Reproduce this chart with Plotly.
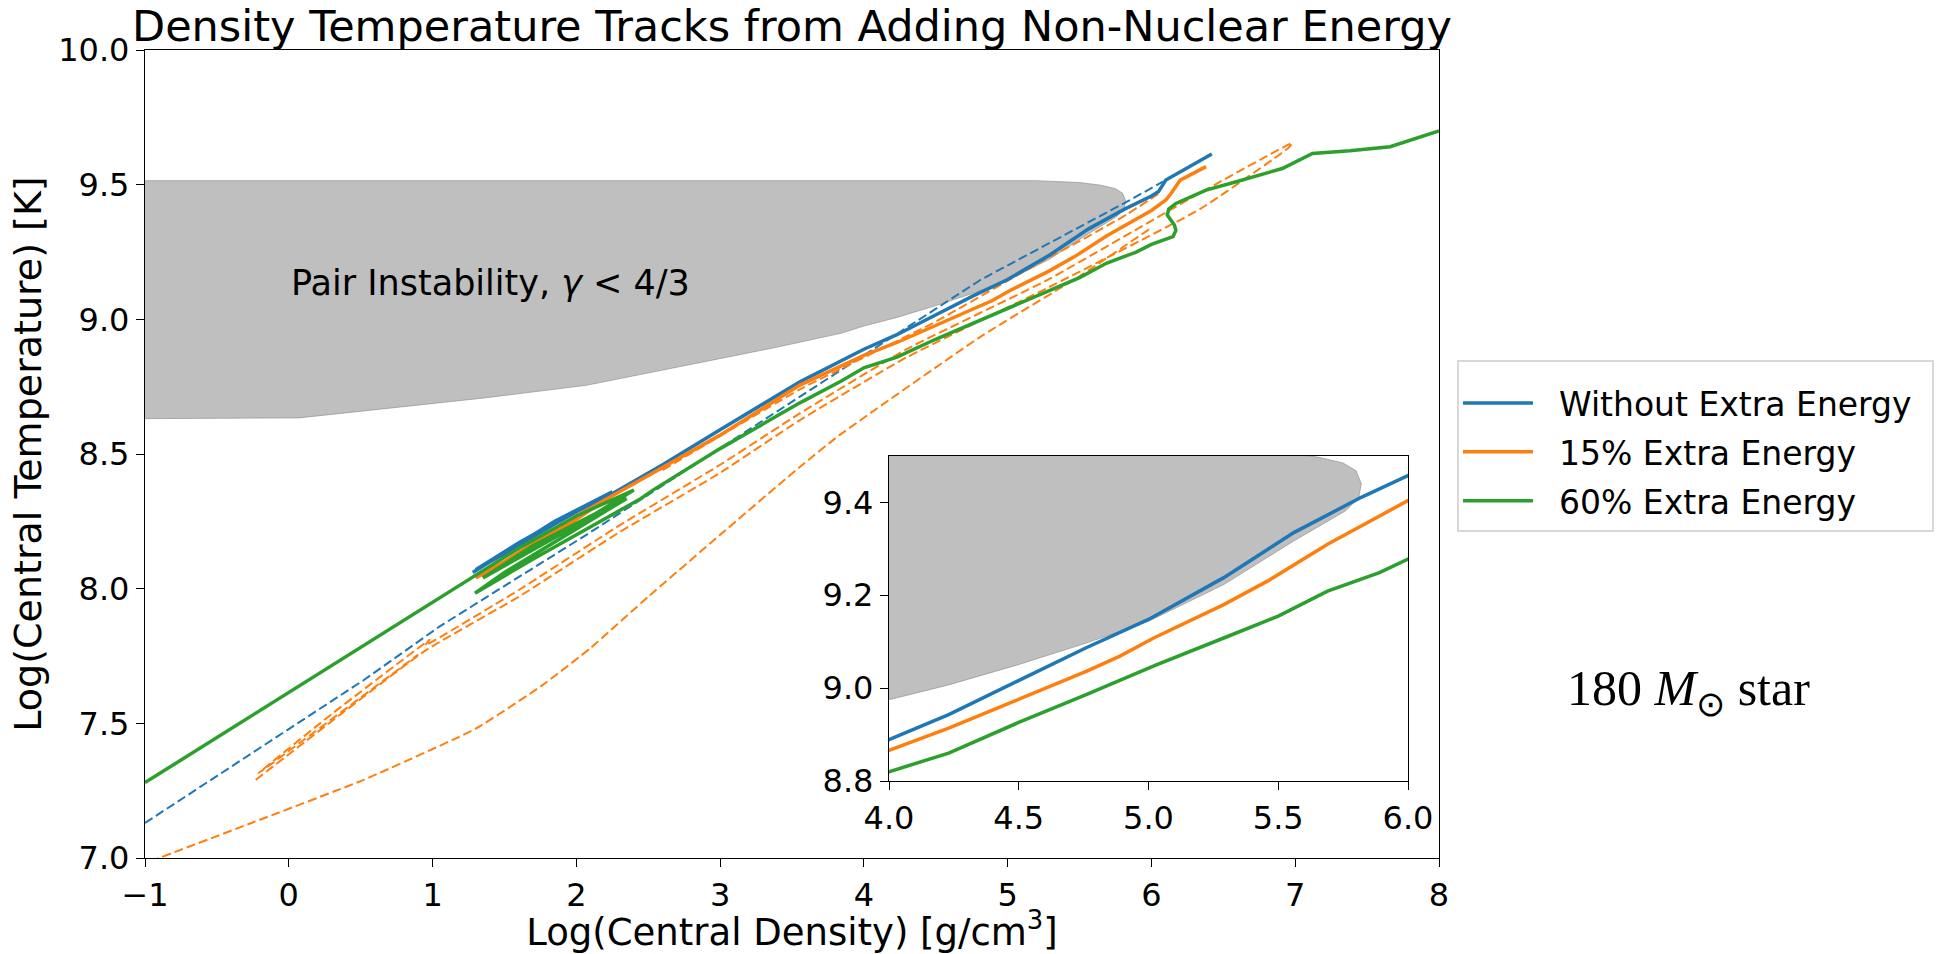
import plotly.graph_objects as go

# ---------------- data ----------------
# Pair-instability region (gamma < 4/3) boundary polygon
pi_x = [-1.5, 5.2, 5.5, 5.65, 5.75, 5.80, 5.82, 5.81, 5.76, 5.56, 5.29, 5.0, 4.76, 4.495,
        4.23, 4.0, 3.84, 3.4, 2.96, 2.5, 2.07, 1.36, 0.74, 0.07, -1.5]
pi_y = [9.515, 9.515, 9.508, 9.498, 9.485, 9.468, 9.44, 9.41, 9.382, 9.317, 9.223, 9.144,
        9.097, 9.05, 9.007, 8.975, 8.948, 8.897, 8.85, 8.80, 8.755, 8.708, 8.673, 8.634, 8.63]

# Without extra energy (solid)
blue_x = [1.28, 1.55, 1.85, 2.25, 1.85, 1.5, 1.30, 1.6, 1.9, 2.21, 2.6, 3.0, 3.555, 4.0,
          4.23, 4.495, 4.76, 5.0, 5.29, 5.56, 5.82, 6.0, 6.05, 6.10, 6.42]
blue_y = [8.06, 8.15, 8.25, 8.36, 8.24, 8.13, 8.07, 8.17, 8.26, 8.34, 8.46, 8.59, 8.768, 8.889,
          8.943, 9.015, 9.087, 9.148, 9.238, 9.335, 9.411, 9.458, 9.475, 9.517, 9.614]

# 15% extra energy (solid)
orange_x = [1.30, 1.6, 1.9, 2.2, 1.9, 1.6, 1.35, 1.7, 2.0, 2.3, 2.7, 3.0, 3.555, 4.0, 4.23,
            4.495, 4.76, 4.89, 5.02, 5.29, 5.46, 5.69, 6.0, 6.10, 6.14, 6.20, 6.38]
orange_y = [8.04, 8.13, 8.23, 8.33, 8.22, 8.12, 8.05, 8.17, 8.27, 8.36, 8.48, 8.57, 8.756, 8.866,
            8.914, 8.975, 9.036, 9.069, 9.108, 9.18, 9.231, 9.31, 9.404, 9.443, 9.47, 9.517, 9.567]

# 60% extra energy (solid)
green_x = [-1.0, 1.28, 1.6, 2.0, 2.40, 2.0, 1.6, 1.35, 1.7, 2.1, 2.35, 1.9, 1.5, 1.295, 1.7,
           2.1, 2.45, 2.53, 3.0, 3.555, 3.84, 4.0, 4.23, 4.495, 4.76, 5.03, 5.29, 5.5, 5.69,
           5.89, 6.0, 6.15, 6.17, 6.16, 6.11, 6.12, 6.17, 6.38, 6.59, 6.91, 7.12, 7.38, 7.66,
           7.84, 8.0]
green_y = [7.28, 8.044, 8.15, 8.27, 8.366, 8.235, 8.115, 8.04, 8.16, 8.27, 8.335, 8.19, 8.06,
           7.983, 8.11, 8.23, 8.335, 8.365, 8.52, 8.69, 8.77, 8.82, 8.86, 8.925, 8.986, 9.05,
           9.108, 9.155, 9.209, 9.249, 9.278, 9.307, 9.33, 9.35, 9.387, 9.41, 9.43, 9.48,
           9.511, 9.56, 9.616, 9.626, 9.641, 9.672, 9.70]

# Dashed tracks
blue_dash_x = [-1.0, 0.52, 1.05, 2.07, 3.555, 4.81, 5.83, 6.08]
blue_dash_y = [7.13, 7.66, 7.86, 8.20, 8.713, 9.146, 9.437, 9.511]

orange_dash_main_x = [-0.23, 0.95, 1.6, 2.3, 3.0, 3.555, 4.3, 5.29, 6.34, 6.95, 6.98, 6.34, 5.29,
                      4.3, 3.555, 3.0, 2.3, 1.6, 0.95, 0.98, 0.3, -0.21, 0.9]
orange_dash_main_y = [7.29, 7.77, 7.97, 8.21, 8.43, 8.626, 8.86, 9.12, 9.41, 9.635, 9.655, 9.47,
                      9.15, 8.89, 8.651, 8.46, 8.235, 7.995, 7.79, 7.81, 7.535, 7.315, 7.755]
orange_dash_low_x = [-1.05, -0.26, 0.52, 1.30, 1.76, 2.1, 2.5, 3.0, 3.55, 3.83, 4.81, 5.5, 6.0]
orange_dash_low_y = [6.97, 7.13, 7.29, 7.48, 7.64, 7.78, 7.97, 8.20, 8.45, 8.57, 8.935, 9.16, 9.34]
orange_dash_up_x = [2.6, 3.555, 4.48, 5.27, 5.5, 5.83, 6.06]
orange_dash_up_y = [8.44, 8.74, 8.986, 9.225, 9.29, 9.39, 9.47]

series_names = ["Without Extra Energy", "15% Extra Energy", "60% Extra Energy"]

C_BLUE, C_ORANGE, C_GREEN = "#1f77b4", "#ff7f0e", "#2ca02c"
GRAY_FILL = "rgba(128,128,128,0.5)"
FONT = "DejaVu Sans"
NBSP = "\u00a0"

fig = go.Figure()


def add_region(xa, ya):
    fig.add_trace(go.Scatter(x=pi_x, y=pi_y, mode="lines", fill="toself", fillcolor=GRAY_FILL,
                             line=dict(color="rgba(128,128,128,0.55)", width=1),
                             hoverinfo="skip", showlegend=False, xaxis=xa, yaxis=ya))


def add_solids(xa, ya, show):
    for (xs, ys, col, nm, g) in [(blue_x, blue_y, C_BLUE, series_names[0], "a"),
                                 (orange_x, orange_y, C_ORANGE, series_names[1], "b"),
                                 (green_x, green_y, C_GREEN, series_names[2], "c")]:
        fig.add_trace(go.Scatter(x=xs, y=ys, mode="lines", name=NBSP * 2 + nm, legendgroup=g,
                                 line=dict(color=col, width=3.5),
                                 showlegend=show, xaxis=xa, yaxis=ya))


# main axes
add_region("x", "y")
fig.add_trace(go.Scatter(x=blue_dash_x, y=blue_dash_y, mode="lines",
                         line=dict(color=C_BLUE, width=2, dash="9px,4px"),
                         showlegend=False, xaxis="x", yaxis="y"))
od_x = orange_dash_main_x + [None] + orange_dash_low_x + [None] + orange_dash_up_x
od_y = orange_dash_main_y + [None] + orange_dash_low_y + [None] + orange_dash_up_y
fig.add_trace(go.Scatter(x=od_x, y=od_y, mode="lines", connectgaps=False,
                         line=dict(color=C_ORANGE, width=2, dash="9px,4px", shape="spline",
                                   smoothing=0.4),
                         showlegend=False, xaxis="x", yaxis="y"))
add_solids("x", "y", True)

# inset axes
add_region("x2", "y2")
add_solids("x2", "y2", False)

axis_common = dict(showline=True, mirror=True, linecolor="black", linewidth=1.3,
                   ticks="outside", ticklen=8, tickwidth=1.3, tickcolor="black",
                   showgrid=False, zeroline=False,
                   tickfont=dict(family=FONT, size=32, color="black"))

W, H = 1944, 954
L, R, T, B = 145, 1439, 50, 858


def px(x):
    return (x - L) / (R - L)


def py(y):
    return (B - y) / (B - T)


fig.update_layout(
    width=W, height=H,
    margin=dict(l=L, r=W - R, t=T, b=H - B, pad=0, autoexpand=False),
    paper_bgcolor="white", plot_bgcolor="white",
    font=dict(family=FONT, color="black"),
    title=dict(text="Density Temperature Tracks from Adding Non-Nuclear Energy",
               x=0.5, xref="paper", xanchor="center",
               y=1 - 26 / H, yref="container", yanchor="middle",
               font=dict(family=FONT, size=43, color="black")),
    xaxis=dict(range=[-1, 8], tickmode="linear", tick0=-1, dtick=1, automargin=False,
               title=dict(text="Log(Central Density) [g/cm<sup>3</sup>]",
                          font=dict(family=FONT, size=37), standoff=10),
               **axis_common),
    yaxis=dict(range=[7, 10], tickmode="linear", tick0=7, dtick=0.5, tickformat=".1f",
               automargin=False,
               title=dict(text="Log(Central Temperature) [K]",
                          font=dict(family=FONT, size=38), standoff=4),
               **axis_common),
    xaxis2=dict(domain=[px(889), px(1408)], anchor="y2",
                range=[4, 6], tickmode="linear", tick0=4, dtick=0.5, tickformat=".1f",
                automargin=False, **axis_common),
    yaxis2=dict(domain=[py(781), py(456)], anchor="x2",
                range=[8.8, 9.5], tickvals=[8.8, 9.0, 9.2, 9.4], tickformat=".1f",
                automargin=False, **axis_common),
    legend=dict(x=px(1458), y=py(375), xanchor="left", yanchor="top",
                bgcolor="rgba(0,0,0,0)", borderwidth=0,
                font=dict(family=FONT, size=33, color="black"),
                itemwidth=70, tracegroupgap=3),
    showlegend=True,
)

# legend frame
fig.add_shape(type="rect", xref="paper", yref="paper",
              x0=px(1458), x1=px(1933), y0=py(531), y1=py(361),
              line=dict(color="#cccccc", width=1.5), fillcolor="white", layer="below")

fig.add_annotation(x=0, y=9.135, xref="x", yref="y", xanchor="left", yanchor="middle",
                   text="Pair Instability, <i>γ</i> &lt; 4/3", showarrow=False,
                   font=dict(family=FONT, size=35, color="black"))
fig.add_annotation(x=px(1565), y=py(692), xref="paper", yref="paper",
                   xanchor="left", yanchor="middle", showarrow=False,
                   text="180 <i>M</i><sub>⊙</sub> star",
                   font=dict(family="Liberation Serif, Times New Roman, serif", size=50,
                             color="black"))

fig.write_html("out.html")
